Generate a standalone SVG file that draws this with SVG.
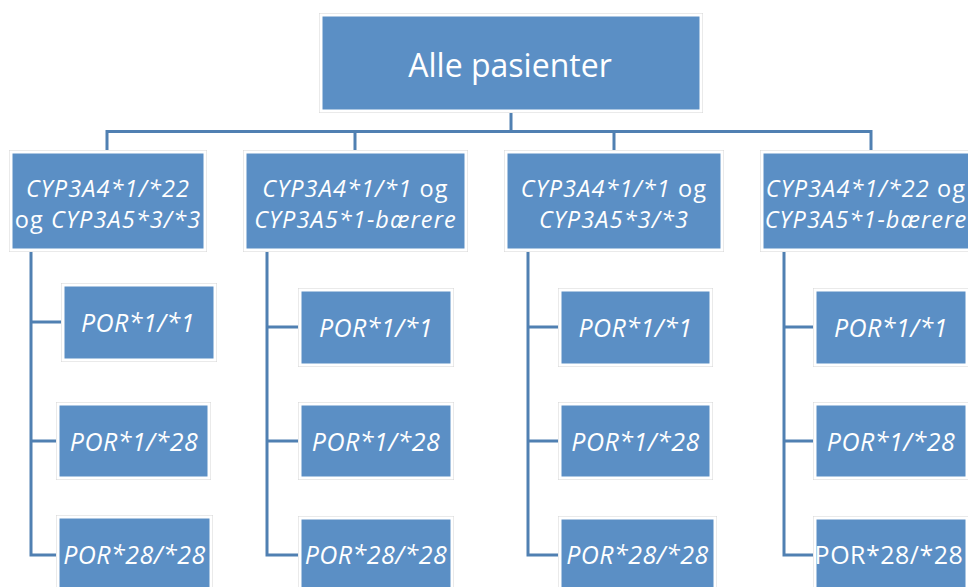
<svg xmlns="http://www.w3.org/2000/svg" width="968" height="587" viewBox="0 0 968 587">
<style>
.box{fill:#5B8FC5;stroke:#ffffff;stroke-width:3}
.halo{fill:none;stroke:#d4d4d4;stroke-width:1}
.conn{fill:none;stroke:#5080B2;stroke-width:3}
text{font-family:"Open Sans","Liberation Sans",sans-serif;fill:#ffffff;text-anchor:middle}
.t0{font-size:32px}
.t1{font-size:23.5px;font-style:italic;letter-spacing:1.1px}
.t2{font-size:25px;font-style:italic;letter-spacing:0.5px}
.up{font-style:normal}
</style>
<rect width="968" height="587" fill="#ffffff"/>
<g id="connectors">
<path class="conn" d="M511 111V131.5M107 151V131.5H871V151M355 131.5V151M614 131.5V151"/>
<path class="conn" d="M31 250V555H59M31 322H63M31 441H59"/>
<path class="conn" d="M267 250V555H300M267 327H300M267 441H300"/>
<path class="conn" d="M528 250V555H560M528 327H560M528 441H560"/>
<path class="conn" d="M784 250V555H815M784 327H815M784 441H815"/>
</g>
<g id="root"><rect class="halo" x="319.5" y="13.5" width="383" height="99"/><rect class="box" x="321" y="15" width="380" height="96"/><text class="t0" x="510" y="77">Alle pasienter</text></g>
<g id="g1"><rect class="halo" x="9.5" y="150.5" width="197" height="101"/><rect class="box" x="11" y="152" width="194" height="98"/><text class="t1" x="108" y="197">CYP3A4*1/*22</text><text class="t1" x="108" y="228"><tspan class="up">og </tspan>CYP3A5*3/*3</text></g>
<g id="g2"><rect class="halo" x="243.5" y="150.5" width="224" height="101"/><rect class="box" x="245" y="152" width="221" height="98"/><text class="t1" x="355.5" y="197">CYP3A4*1/*1<tspan class="up"> og</tspan></text><text class="t1" x="355.5" y="228">CYP3A5*1-bærere</text></g>
<g id="g3"><rect class="halo" x="504.5" y="150.5" width="219" height="101"/><rect class="box" x="506" y="152" width="216" height="98"/><text class="t1" x="614" y="197">CYP3A4*1/*1<tspan class="up"> og</tspan></text><text class="t1" x="614" y="228">CYP3A5*3/*3</text></g>
<g id="g4"><rect class="halo" x="760.5" y="150.5" width="224" height="101"/><rect class="box" x="762" y="152" width="221" height="98"/><text class="t1" x="866" y="197">CYP3A4*1/*22<tspan class="up"> og</tspan></text><text class="t1" x="866" y="228">CYP3A5*1-bærere</text></g>
<g id="p11"><rect class="halo" x="61.5" y="283.5" width="155" height="78"/><rect class="box" x="63" y="285" width="152" height="75"/><text class="t2" x="138" y="332">POR*1/*1</text></g>
<g id="p12"><rect class="halo" x="56.5" y="402.5" width="154" height="77"/><rect class="box" x="58" y="404" width="151" height="74"/><text class="t2" x="134" y="451">POR*1/*28</text></g>
<g id="p13"><rect class="halo" x="56.5" y="515.5" width="156" height="80"/><rect class="box" x="58" y="517" width="153" height="80"/><text class="t2" x="134.5" y="564">POR*28/*28</text></g>
<g id="p21"><rect class="halo" x="298.5" y="288.5" width="155" height="78"/><rect class="box" x="300" y="290" width="152" height="75"/><text class="t2" x="376" y="337">POR*1/*1</text></g>
<g id="p22"><rect class="halo" x="298.5" y="402.5" width="155" height="77"/><rect class="box" x="300" y="404" width="152" height="74"/><text class="t2" x="376" y="451">POR*1/*28</text></g>
<g id="p23"><rect class="halo" x="298.5" y="516.5" width="155" height="80"/><rect class="box" x="300" y="518" width="152" height="80"/><text class="t2" x="376" y="564">POR*28/*28</text></g>
<g id="p31"><rect class="halo" x="558.5" y="288.5" width="154" height="78"/><rect class="box" x="560" y="290" width="151" height="75"/><text class="t2" x="635.5" y="337">POR*1/*1</text></g>
<g id="p32"><rect class="halo" x="558.5" y="402.5" width="154" height="77"/><rect class="box" x="560" y="404" width="151" height="74"/><text class="t2" x="635.5" y="451">POR*1/*28</text></g>
<g id="p33"><rect class="halo" x="558.5" y="516.5" width="158" height="80"/><rect class="box" x="560" y="518" width="155" height="80"/><text class="t2" x="637.5" y="564">POR*28/*28</text></g>
<g id="p41"><rect class="halo" x="813.5" y="288.5" width="156" height="78"/><rect class="box" x="815" y="290" width="152" height="75"/><text class="t2" x="891" y="337">POR*1/*1</text></g>
<g id="p42"><rect class="halo" x="813.5" y="402.5" width="156" height="77"/><rect class="box" x="815" y="404" width="152" height="74"/><text class="t2" x="891" y="451">POR*1/*28</text></g>
<g id="p43"><rect class="halo" x="813.5" y="516.5" width="156" height="80"/><rect class="box" x="815" y="518" width="152" height="80"/><text class="t2 up" x="889" y="564">POR*28/*28</text></g>
</svg>
